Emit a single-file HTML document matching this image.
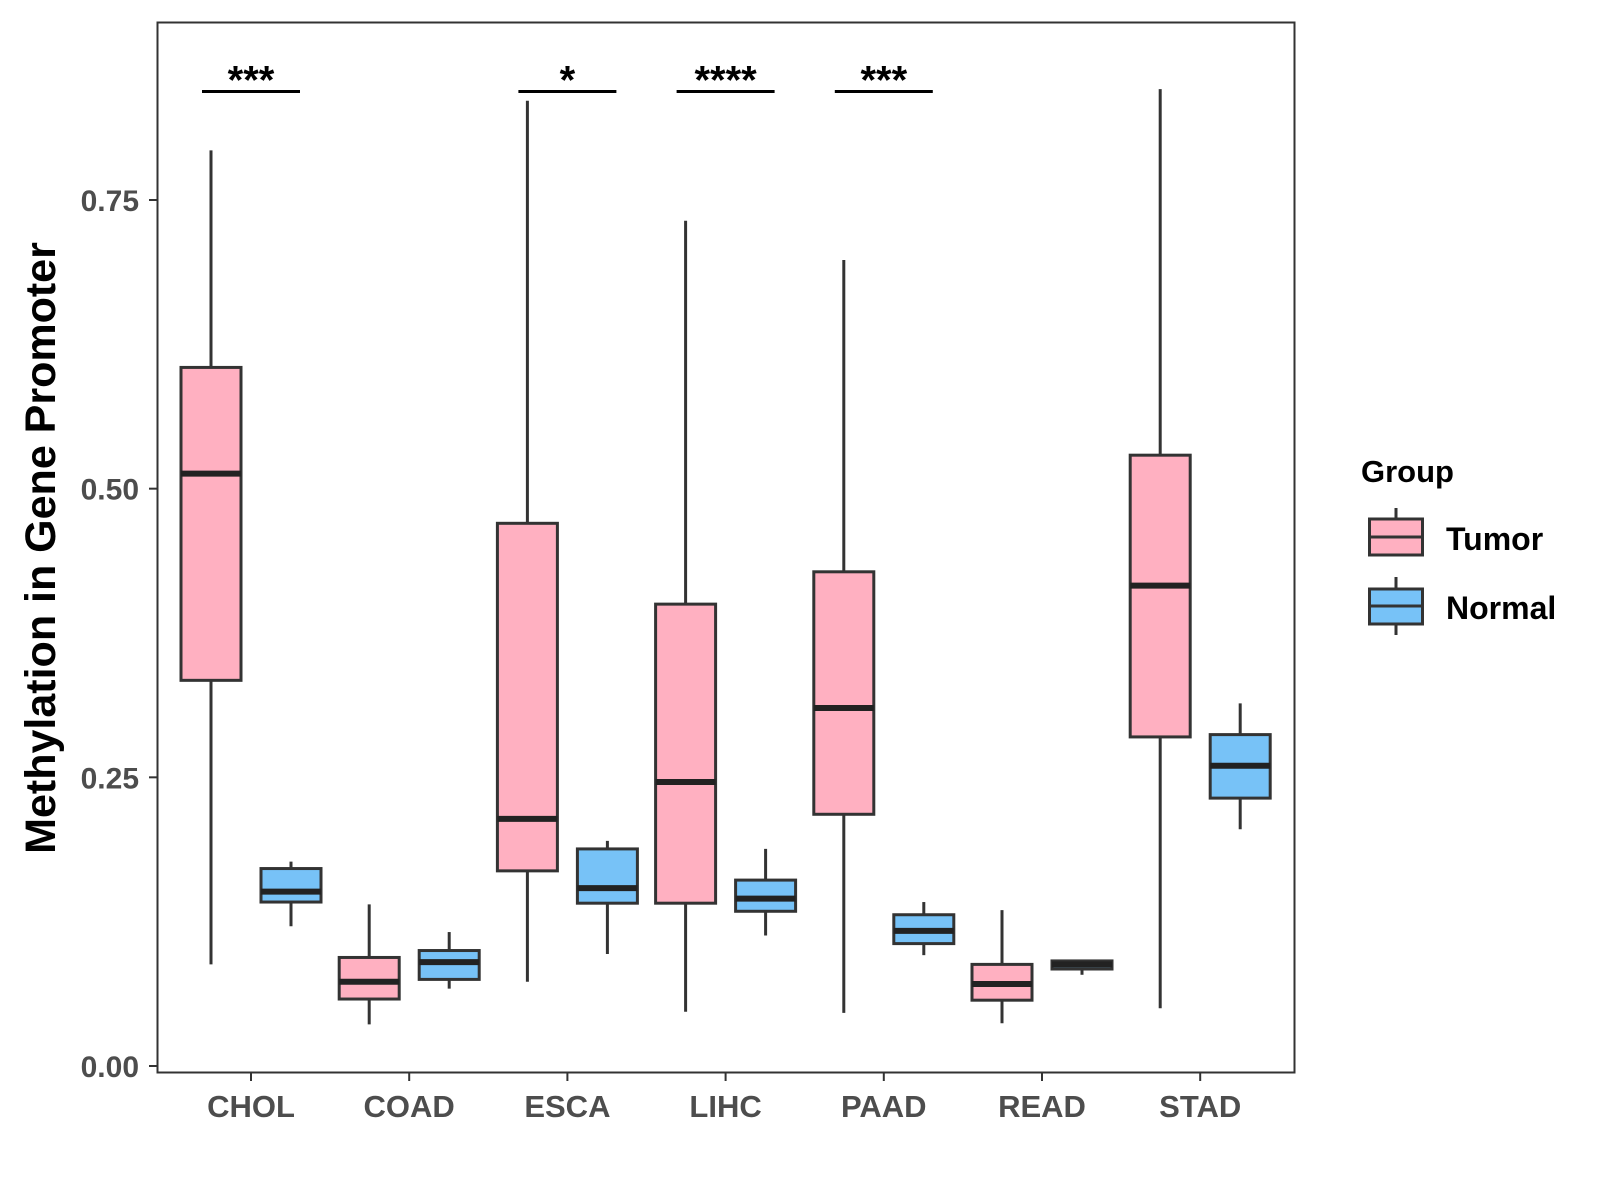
<!DOCTYPE html>
<html><head><meta charset="utf-8"><style>
html,body{margin:0;padding:0;background:#fff;width:1600px;height:1200px;overflow:hidden}
svg{display:block;font-family:"Liberation Sans",Arial,sans-serif;font-weight:bold}
</style></head><body>
<svg id="chart" width="1600" height="1200" viewBox="0 0 1600 1200" xmlns="http://www.w3.org/2000/svg">
<rect x="157.5" y="22.5" width="1137" height="1050" fill="#fff" stroke="#333" stroke-width="2"/>
<g id="marks"></g>
<text transform="translate(55,548) rotate(-90)" text-anchor="middle" font-size="43" fill="#000">Methylation in Gene Promoter</text>
<g>
<text x="1361" y="482" font-size="31" fill="#000">Group</text>
<g>
<line x1="1396" y1="508" x2="1396" y2="554" stroke="#333" stroke-width="3"/>
<rect x="1369.5" y="519" width="53" height="36" fill="#FFB0C1" stroke="#333" stroke-width="3"/>
<line x1="1369.5" y1="537" x2="1422.5" y2="537" stroke="#333" stroke-width="3"/>
<text x="1446" y="550" font-size="32" fill="#000">Tumor</text>
</g>
<g>
<line x1="1396" y1="577" x2="1396" y2="635" stroke="#333" stroke-width="3"/>
<rect x="1369.5" y="589" width="53" height="35" fill="#77C2F7" stroke="#333" stroke-width="3"/>
<line x1="1369.5" y1="606" x2="1422.5" y2="606" stroke="#333" stroke-width="3"/>
<text x="1446" y="619" font-size="32" fill="#000">Normal</text>
</g>
</g>
</svg>
<script>
const categories=["CHOL","COAD","ESCA","LIHC","PAAD","READ","STAD"];
const tumorLow=[0.088,0.036,0.073,0.047,0.046,0.037,0.050];
const tumorQ1=[0.334,0.058,0.169,0.141,0.218,0.057,0.285];
const tumorMed=[0.513,0.073,0.214,0.246,0.310,0.071,0.416];
const tumorQ3=[0.605,0.094,0.470,0.400,0.428,0.088,0.529];
const tumorHigh=[0.793,0.140,0.836,0.732,0.698,0.135,0.846];
const normalLow=[0.121,0.067,0.097,0.113,0.096,0.079,0.205];
const normalQ1=[0.142,0.075,0.141,0.134,0.106,0.084,0.232];
const normalMed=[0.151,0.090,0.154,0.145,0.117,0.088,0.260];
const normalQ3=[0.171,0.100,0.188,0.161,0.131,0.091,0.287];
const normalHigh=[0.177,0.116,0.195,0.188,0.142,0.092,0.314];
const sigLabels=["***","","*","****","***","",""];
const sigLevel=0.844;
const yTicks=[0,0.25,0.5,0.75];
const yTickLabels=["0.00","0.25","0.50","0.75"];

const NS="http://www.w3.org/2000/svg";
const g=document.getElementById('marks');
const y=v=>1066-v*(866/0.75);
const x=i=>251+i*158.2;
function mk(tag,attrs,parent){const e=document.createElementNS(NS,tag);for(const k in attrs)e.setAttribute(k,attrs[k]);(parent||g).appendChild(e);return e;}

yTicks.forEach((t,i)=>{
  const tk=mk('line',{x1:149,x2:157,y1:y(t),y2:y(t),stroke:'#333','stroke-width':2});
  
  
  const lb=mk('text',{x:139,y:y(t)+11,'text-anchor':'end','font-size':30,fill:'#4d4d4d'});
  lb.textContent=yTickLabels[i];
  
  
});
categories.forEach((c,i)=>{
  const tk=mk('line',{x1:x(i),x2:x(i),y1:1073,y2:1081,stroke:'#333','stroke-width':2});
  
  
  const lb=mk('text',{x:x(i),y:1117,'text-anchor':'middle','font-size':31,fill:'#4d4d4d'});
  lb.textContent=c;
  
  
});
function box(cx,lo,q1,md,q3,hi,fill,name){
  const grp=mk('g',{});
  
  
  mk('line',{x1:cx,x2:cx,y1:y(hi),y2:y(lo),stroke:'#333','stroke-width':3},grp);
  mk('rect',{x:cx-30,y:y(q3),width:60,height:Math.max(1,y(q1)-y(q3)),fill:fill,stroke:'#333','stroke-width':3},grp);
  mk('line',{x1:cx-30,x2:cx+30,y1:y(md),y2:y(md),stroke:'#222','stroke-width':6},grp);
}
categories.forEach((c,i)=>{
  box(x(i)-40,tumorLow[i],tumorQ1[i],tumorMed[i],tumorQ3[i],tumorHigh[i],'#FFB0C1','box-tumor-'+c.toLowerCase());
  box(x(i)+40,normalLow[i],normalQ1[i],normalMed[i],normalQ3[i],normalHigh[i],'#77C2F7','box-normal-'+c.toLowerCase());
  if(sigLabels[i]){
    const ln=mk('line',{x1:x(i)-49,x2:x(i)+49,y1:y(sigLevel),y2:y(sigLevel),stroke:'#000','stroke-width':3});
    
    
    const t=mk('text',{x:x(i),y:y(sigLevel)+2,'text-anchor':'middle','font-size':40,fill:'#000'});
    t.textContent=sigLabels[i];
    
    
  }
});
</script>
</body></html>
